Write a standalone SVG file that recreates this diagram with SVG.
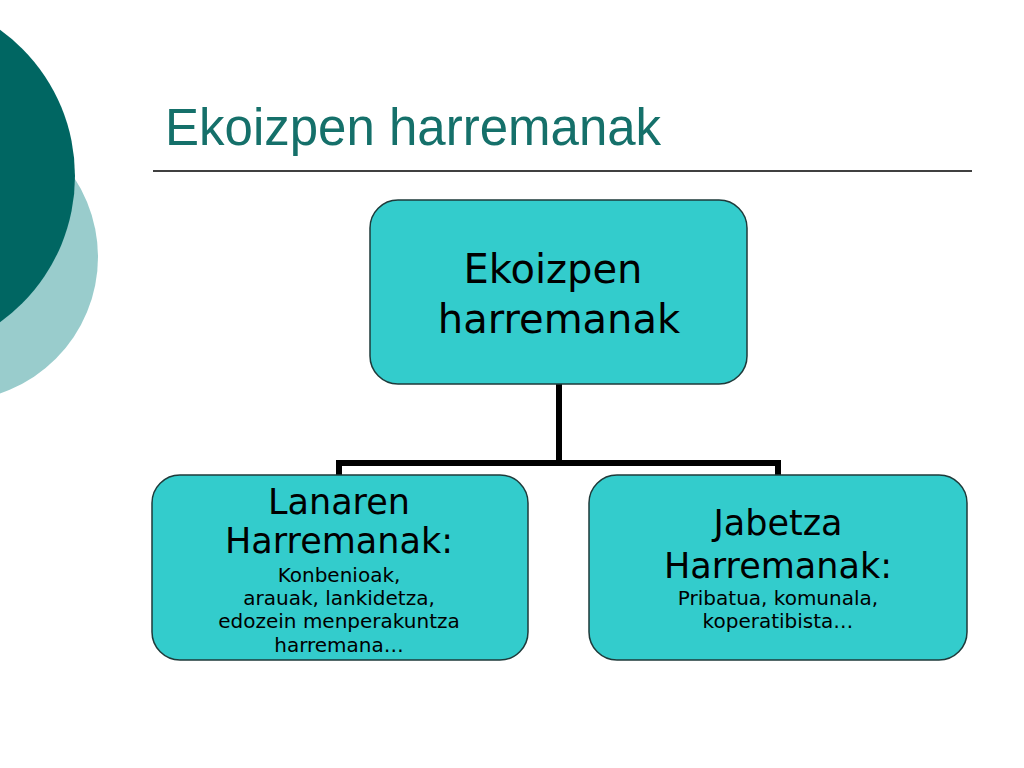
<svg xmlns="http://www.w3.org/2000/svg" width="1024" height="768" viewBox="0 0 1024 768">
  <style>
    .node { fill: #33CCCC; stroke: #1E3A3A; stroke-width: 1.5; }
    .t { font-family: "DejaVu Sans", Verdana, sans-serif; fill: #000; text-anchor: middle; }
    .big { font-size: 40px; }
    .mid { font-size: 35px; }
    .small { font-size: 20px; }
    .conn { fill: none; stroke: #000; stroke-width: 6; stroke-linejoin: miter; }
  </style>
  <rect width="1024" height="768" fill="#FFFFFF"/>
  <g id="decor">
    <circle cx="-46" cy="257" r="144" fill="#99CCCC"/>
    <circle cx="-105" cy="176" r="180" fill="#006662"/>
  </g>
  <g id="title">
    <text x="165" y="145" font-family="'Liberation Sans', Arial, sans-serif" font-size="51" fill="#15706A">Ekoizpen harremanak</text>
    <line x1="153" y1="171" x2="972" y2="171" stroke="#000" stroke-width="1.5"/>
  </g>
  <g id="connectors">
    <path class="conn" d="M559 384 V463 M339 478 V463 H778 V478"/>
  </g>
  <g id="node-root">
    <rect class="node" x="370" y="200" width="377" height="184" rx="28"/>
    <text class="t big" x="553" y="283">Ekoizpen</text>
    <text class="t big" x="559" y="333">harremanak</text>
  </g>
  <g id="node-lanaren">
    <rect class="node" x="152" y="475" width="376" height="185" rx="28"/>
    <text class="t mid" x="339" y="514">Lanaren</text>
    <text class="t mid" x="339" y="553">Harremanak:</text>
    <text class="t small" x="339" y="582">Konbenioak,</text>
    <text class="t small" x="339" y="605">arauak, lankidetza,</text>
    <text class="t small" x="339" y="628">edozein menperakuntza</text>
    <text class="t small" x="339" y="652">harremana…</text>
  </g>
  <g id="node-jabetza">
    <rect class="node" x="589" y="475" width="378" height="185" rx="28"/>
    <text class="t mid" x="778" y="535">Jabetza</text>
    <text class="t mid" x="778" y="578">Harremanak:</text>
    <text class="t small" x="778" y="605">Pribatua, komunala,</text>
    <text class="t small" x="778" y="628">koperatibista…</text>
  </g>
</svg>
